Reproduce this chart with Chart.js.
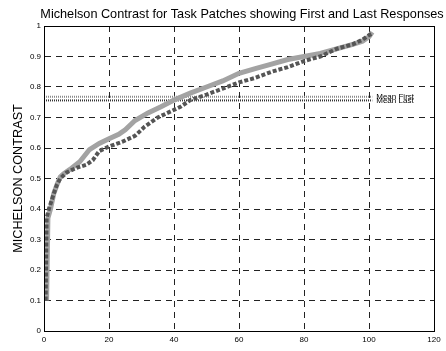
<!DOCTYPE html>
<html>
<head>
<meta charset="utf-8">
<script src="https://cdn.jsdelivr.net/npm/chart.js@4"></script>
<style>
  html, body { margin: 0; padding: 0; background: #fff; }
</style>
</head>
<body>
<canvas id="myChart" width="446" height="351"></canvas>
<script>
// sorted contrast of the patches, first responses (x = patch rank)
const firstX = [0.8, 1.2, 2, 3, 4, 5, 6, 8, 11, 14, 17, 20, 23, 25, 28, 32, 36, 40, 45, 50, 55, 60, 65, 70, 75, 80, 85, 90, 95, 98, 100, 101];
const firstY = [0.10, 0.37, 0.40, 0.45, 0.48, 0.505, 0.515, 0.53, 0.555, 0.595, 0.615, 0.63, 0.645, 0.66, 0.69, 0.715, 0.735, 0.757, 0.78, 0.80, 0.82, 0.845, 0.86, 0.875, 0.89, 0.90, 0.91, 0.925, 0.94, 0.95, 0.965, 0.98];

// last responses
const lastX = [0.5, 0.8, 1.5, 3, 4, 5, 7, 10, 13, 15, 17, 20, 24, 28, 31, 35, 38, 42, 45, 50, 55, 60, 65, 70, 75, 80, 85, 90, 95, 98, 100, 101];
const lastY = [0.10, 0.37, 0.40, 0.45, 0.48, 0.50, 0.52, 0.535, 0.545, 0.56, 0.59, 0.605, 0.62, 0.64, 0.67, 0.70, 0.715, 0.735, 0.757, 0.775, 0.795, 0.815, 0.83, 0.85, 0.865, 0.885, 0.90, 0.925, 0.94, 0.955, 0.97, 0.975];

const meanFirst = 0.768;
const meanLast = 0.756;
const meanSpan = [0, 101];

const xTicks = [0, 20, 40, 60, 80, 100, 120];
const yTicks = [0, 0.1, 0.2, 0.3, 0.4, 0.5, 0.6, 0.7, 0.8, 0.9, 1];

const chartTitle = 'Michelson Contrast for Task Patches showing First and Last Responses';

function pairs(xs, ys) {
    return xs.map((x, i) => ({ x: x, y: ys[i] }));
}

Chart.defaults.font.family = "'Liberation Sans', Arial, sans-serif";
Chart.defaults.color = '#000';

// box round the axes, the title, and the labels of the mean lines
const frame = {
    id: 'frame',
    afterDatasetsDraw(chart) {
        const c = chart.ctx;
        const a = chart.chartArea;
        const xs = chart.scales.x, ys = chart.scales.y;
        c.save();
        c.strokeStyle = '#000';
        c.lineWidth = 1;
        c.strokeRect(Math.round(a.left) + 0.5, Math.round(a.top) + 0.5, Math.round(a.right - a.left), Math.round(a.bottom - a.top));
        c.fillStyle = '#000';

        c.font = "12.7px 'Liberation Sans', Arial, sans-serif";
        c.textAlign = 'center';
        c.textBaseline = 'alphabetic';
        c.fillText(chartTitle, 242, 17.5);

        c.font = "8px 'Liberation Sans', Arial, sans-serif";
        c.textAlign = 'left';
        c.textBaseline = 'middle';
        const lx = xs.getPixelForValue(meanSpan[1]) + 4;
        c.fillText('Mean First', lx, ys.getPixelForValue(meanFirst));
        c.fillText('Mean Last', lx, ys.getPixelForValue(meanLast));
        c.restore();
    }
};

new Chart(document.getElementById('myChart'), {
    type: 'line',
    data: {
        datasets: [
            {
                label: 'Last',
                data: pairs(lastX, lastY),
                borderColor: '#555555',
                borderWidth: 4,
                borderDash: [4, 2],
                pointRadius: 0,
                tension: 0
            },
            {
                label: 'First',
                data: pairs(firstX, firstY),
                borderColor: '#a3a3a3',
                borderWidth: 5,
                pointRadius: 0,
                tension: 0
            },
            {
                label: 'Mean First',
                data: pairs(meanSpan, [meanFirst, meanFirst]),
                borderColor: '#8a8a8a',
                borderWidth: 2,
                borderDash: [1, 1],
                pointRadius: 0
            },
            {
                label: 'Mean Last',
                data: pairs(meanSpan, [meanLast, meanLast]),
                borderColor: '#333333',
                borderWidth: 2,
                borderDash: [1, 1],
                pointRadius: 0
            }
        ]
    },
    options: {
        responsive: false,
        animation: false,
        devicePixelRatio: 1,
        layout: { padding: { left: 0, right: 12, top: 26, bottom: 0 } },
        plugins: {
            legend: { display: false },
            tooltip: { enabled: false },
            title: { display: false }
        },
        scales: {
            x: {
                type: 'linear',
                min: 0,
                max: 120,
                afterBuildTicks: s => { s.ticks = xTicks.map(v => ({ value: v })); },
                afterFit: s => { s.height = 20; },
                ticks: { font: { size: 8 }, padding: 4, maxRotation: 0 },
                grid: { color: '#222', lineWidth: 1, drawTicks: false },
                border: { display: true, color: '#000', dash: [6, 5] }
            },
            y: {
                min: 0,
                max: 1,
                afterBuildTicks: s => { s.ticks = yTicks.map(v => ({ value: v })); },
                afterFit: s => { s.width = 44; },
                ticks: { font: { size: 8 }, padding: 3, callback: v => String(Math.round(v * 10) / 10) },
                grid: { color: '#222', lineWidth: 1, drawTicks: false },
                border: { display: true, color: '#000', dash: [6, 5] },
                title: {
                    display: true,
                    text: 'MICHELSON CONTRAST',
                    font: { size: 12.7 },
                    color: '#000',
                    padding: { top: 11, bottom: 0 }
                }
            }
        }
    },
    plugins: [frame]
});
</script>
</body>
</html>
